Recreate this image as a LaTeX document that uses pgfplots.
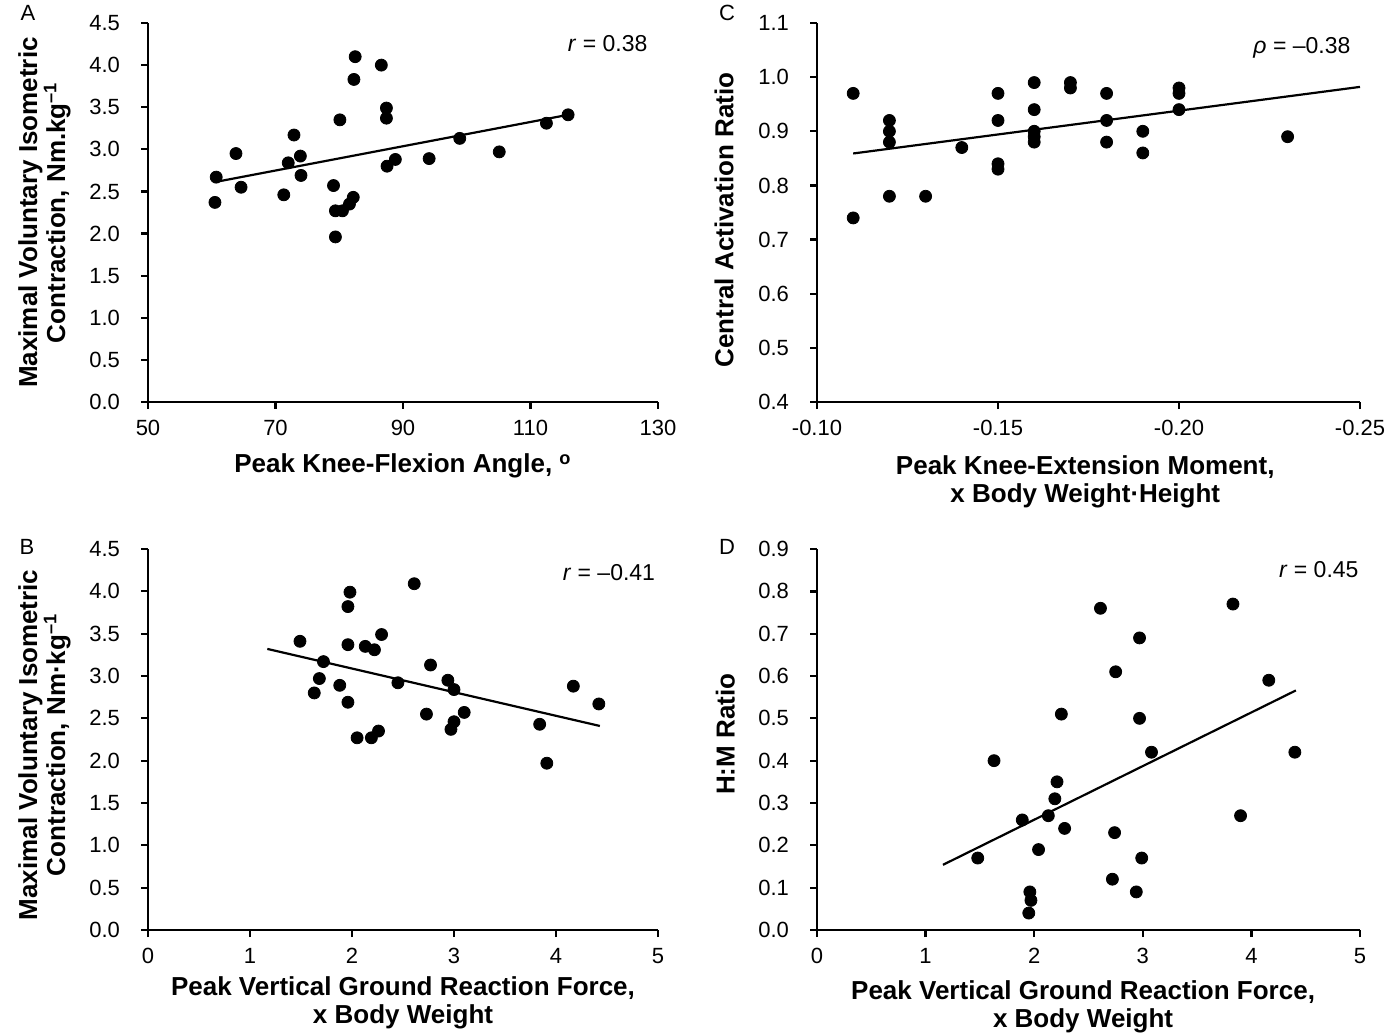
\documentclass[border=0pt]{standalone}
\usepackage{fontspec}
\setmainfont{Liberation Sans}
\usepackage{pgfplots}
\pgfplotsset{compat=1.18}

\newcommand\tickfont{\fontsize{11}{13}\selectfont}
\newcommand\notefont{\fontsize{11.5}{13}\selectfont}
\newcommand\labfont{\fontsize{13}{14}\selectfont\bfseries}

\pgfplotsset{
  panel/.style={
    scale only axis, anchor=south west,
    axis lines=left, axis line style={-, line width=1.15pt},
    tick align=outside, major tick length=3.5pt,
    every tick/.style={black, line width=1.15pt},
    tick label style={font=\tickfont},
    xticklabel style={yshift=-2pt},
    yticklabel style={xshift=-7pt},
    /pgf/number format/assume math mode=true,
    label style={font=\labfont, align=center},
    enlargelimits=false, clip=false,
  },
  dots/.style={only marks, mark=*, mark size=3pt, black},
  fit/.style={black, line width=1.1pt, no marks},
}
\tikzset{note/.style={anchor=east, inner sep=0pt, font=\notefont}}

\begin{document}
\begin{tikzpicture}
\path[use as bounding box] (0,0) rectangle (698pt,517.5pt);

% A
\begin{axis}[panel, at={(74pt,316.5pt)}, width=255pt, height=189.5pt,
  xmin=50, xmax=130, xtick={50,70,...,130},
  ymin=0, ymax=4.5, ytick={0,0.5,...,4.5},
  yticklabel style={/pgf/number format/.cd, fixed, fixed zerofill, precision=1},
  xlabel={Peak Knee-Flexion Angle, \textsuperscript{o}},
  xlabel style={at={(axis description cs:0.5,-0.169)}, anchor=center},
  ylabel={Maximal Voluntary Isometric\\Contraction, Nm.kg\textsuperscript{\textendash1}},
  ylabel style={at={(axis description cs:-0.203,0.5)}, anchor=center}]
\addplot[dots] coordinates {
 (82.5,4.10) (86.6,4.00) (82.3,3.83) (87.4,3.49) (87.4,3.37) (80.1,3.35)
 (115.9,3.41) (112.5,3.31) (72.9,3.17) (98.9,3.13) (63.8,2.95) (73.9,2.92)
 (105.1,2.97) (72.0,2.84) (88.8,2.88) (94.1,2.89) (87.5,2.80) (60.7,2.67)
 (74.0,2.69) (64.6,2.55) (79.1,2.57) (71.3,2.46) (82.2,2.43) (81.6,2.35)
 (79.4,2.27) (80.5,2.27) (60.5,2.37) (79.4,1.96)};
\addplot[fit] coordinates {(60.4,2.61) (115.9,3.41)};
\node[note] at (rel axis cs:0.98,0.945) {\textit{r} = 0.38};
\end{axis}

% C
\begin{axis}[panel, at={(408.5pt,316.5pt)}, width=271.5pt, height=189.5pt,
  x dir=reverse, xmin=-0.25, xmax=-0.10, xtick={-0.10,-0.15,-0.20,-0.25},
  xticklabel style={/pgf/number format/.cd, fixed, fixed zerofill, precision=2},
  ymin=0.4, ymax=1.1, ytick={0.4,0.5,...,1.1},
  yticklabel style={/pgf/number format/.cd, fixed, fixed zerofill, precision=1},
  xlabel={Peak Knee-Extension Moment,\\x Body Weight·Height},
  xlabel style={at={(axis description cs:0.494,-0.21)}, anchor=center},
  ylabel={Central Activation Ratio},
  ylabel style={at={(axis description cs:-0.171,0.48)}, anchor=center}]
\addplot[dots] coordinates {
 (-0.11,0.97) (-0.11,0.74) (-0.12,0.92) (-0.12,0.90) (-0.12,0.88) (-0.12,0.78)
 (-0.13,0.78) (-0.14,0.87) (-0.15,0.97) (-0.15,0.92) (-0.15,0.84) (-0.15,0.83)
 (-0.16,0.99) (-0.16,0.94) (-0.16,0.90) (-0.16,0.89) (-0.16,0.88)
 (-0.17,0.99) (-0.17,0.98) (-0.18,0.97) (-0.18,0.92) (-0.18,0.88)
 (-0.19,0.90) (-0.19,0.86) (-0.20,0.98) (-0.20,0.97) (-0.20,0.94) (-0.23,0.89)};
\addplot[fit] coordinates {(-0.11,0.859) (-0.25,0.982)};
\node[note] at (rel axis cs:0.983,0.934) {\textit{ρ} = –0.38};
\end{axis}

% B
\begin{axis}[panel, at={(74pt,52.5pt)}, width=255pt, height=190.5pt,
  xmin=0, xmax=5, xtick={0,1,...,5},
  ymin=0, ymax=4.5, ytick={0,0.5,...,4.5},
  yticklabel style={/pgf/number format/.cd, fixed, fixed zerofill, precision=1},
  xlabel={Peak Vertical Ground Reaction Force,\\x Body Weight},
  xlabel style={at={(axis description cs:0.5,-0.192)}, anchor=center},
  ylabel={Maximal Voluntary Isometric\\Contraction, Nm·kg\textsuperscript{\textendash1}},
  ylabel style={at={(axis description cs:-0.203,0.486)}, anchor=center}]
\addplot[dots] coordinates {
 (2.61,4.09) (1.98,3.99) (1.96,3.82) (2.29,3.49) (1.49,3.41) (1.96,3.37)
 (2.13,3.35) (2.22,3.31) (1.72,3.17) (2.77,3.13) (1.68,2.97) (2.94,2.95)
 (2.45,2.92) (1.88,2.89) (4.17,2.88) (3.00,2.84) (1.63,2.80) (1.96,2.69)
 (4.42,2.67) (2.73,2.55) (3.10,2.57) (3.00,2.46) (3.84,2.43) (2.97,2.37)
 (2.26,2.35) (2.05,2.27) (2.19,2.27) (3.91,1.97)};
\addplot[fit] coordinates {(1.17,3.32) (4.43,2.41)};
\node[note] at (rel axis cs:0.995,0.938) {\textit{r} = –0.41};
\end{axis}

% D
\begin{axis}[panel, at={(408.5pt,52.5pt)}, width=271.5pt, height=190.5pt,
  xmin=0, xmax=5, xtick={0,1,...,5},
  ymin=0, ymax=0.9, ytick={0,0.1,...,0.9},
  yticklabel style={/pgf/number format/.cd, fixed, fixed zerofill, precision=1},
  xlabel={Peak Vertical Ground Reaction Force,\\x Body Weight},
  xlabel style={at={(axis description cs:0.49,-0.202)}, anchor=center},
  ylabel={H:M Ratio},
  ylabel style={at={(axis description cs:-0.169,0.514)}, anchor=center}]
\addplot[dots] coordinates {
 (2.61,0.76) (3.83,0.77) (2.97,0.69) (2.75,0.61) (4.16,0.59) (2.25,0.51)
 (2.97,0.50) (1.63,0.40) (3.08,0.42) (4.40,0.42) (2.21,0.35) (2.19,0.31)
 (1.89,0.26) (2.13,0.27) (3.90,0.27) (2.28,0.24) (2.74,0.23) (2.04,0.19)
 (1.48,0.17) (2.99,0.17) (2.72,0.12) (1.96,0.09) (2.94,0.09) (1.97,0.07)
 (1.95,0.04)};
\addplot[fit] coordinates {(1.16,0.154) (4.41,0.566)};
\node[note] at (rel axis cs:0.998,0.945) {\textit{r} = 0.45};
\end{axis}

\node[font=\tickfont] at (14pt,511pt) {A};
\node[font=\tickfont] at (363.5pt,511pt) {C};
\node[font=\tickfont] at (13.5pt,244pt) {B};
\node[font=\tickfont] at (363.5pt,244pt) {D};
\end{tikzpicture}
\end{document}
